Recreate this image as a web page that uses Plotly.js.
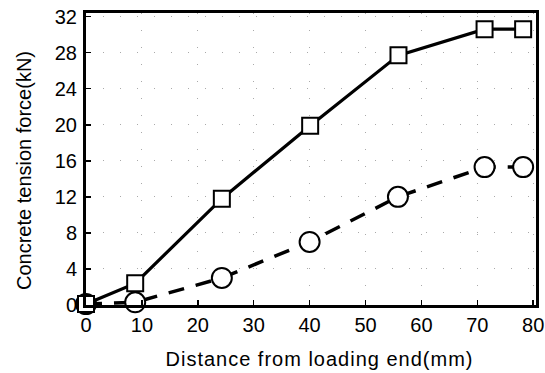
<!DOCTYPE html>
<html>
<head>
<meta charset="utf-8">
<script src="https://cdn.plot.ly/plotly-3.0.1.min.js"></script>
<style>
html,body{margin:0;padding:0;background:#fff;}
#chart{width:545px;height:373px;}
g.annotation[data-index="0"] text {letter-spacing: 1px;}
</style>
</head>
<body>
<div id="chart"></div>
<script>
const distSquare = [0, 8.8, 24.3, 40.1, 55.9, 71.3, 78.2];
const forceSquare = [0.1, 2.4, 11.8, 19.9, 27.7, 30.6, 30.6];
const distCircle = [0, 8.8, 24.3, 40.0, 55.8, 71.3, 78.2];
const forceCircle = [0.1, 0.3, 3.0, 7.0, 12.0, 15.3, 15.3];
const xTicks = [0, 10, 20, 30, 40, 50, 60, 70, 80];
const yTicks = [0, 4, 8, 12, 16, 20, 24, 28, 32];
const xTitle = 'Distance from loading end(mm)';
const yTitle = 'Concrete tension force(kN)';

const tickFont = {family: 'Liberation Sans, Arial, sans-serif', size: 20, color: '#000'};
const titleFont = {family: 'Liberation Sans, Arial, sans-serif', size: 20, color: '#000'};

const traces = [
  {x: distCircle, y: forceCircle, mode: 'lines+markers', cliponaxis: false,
   line: {color: '#000', width: 3.5, dash: '16px,12px'},
   marker: {symbol: 'circle', size: 20, color: '#fff', line: {color: '#000', width: 2}}},
  {x: distSquare, y: forceSquare, mode: 'lines+markers', cliponaxis: false,
   line: {color: '#000', width: 3.2},
   marker: {symbol: 'square', size: 16, color: '#fff', line: {color: '#000', width: 2}}}
];

const axisCommon = {
  ticks: 'inside', ticklen: 5, tickwidth: 1.5, tickcolor: '#000',
  showline: true, linecolor: '#000', linewidth: 3, mirror: true,
  showgrid: true, gridcolor: '#aaa', gridwidth: 1, griddash: '1px,16px',
  zeroline: false, tickfont: tickFont
};

const layout = {
  width: 545, height: 373,
  margin: {l: 86, r: 9, t: 13, b: 68},
  paper_bgcolor: '#fff', plot_bgcolor: '#fff',
  showlegend: false,
  font: tickFont,
  xaxis: Object.assign({range: [0, 80.5], tickvals: xTicks, ticktext: xTicks.map(String)}, axisCommon),
  yaxis: Object.assign({range: [0, 32.4], tickvals: yTicks, ticktext: yTicks.map(String), ticklabelstandoff: 2}, axisCommon),
  annotations: [
    {text: xTitle, xref: 'paper', yref: 'paper', x: 0.518, y: -0.185,
     xanchor: 'center', yanchor: 'middle', showarrow: false, font: titleFont},
    {text: yTitle, xref: 'paper', yref: 'paper', x: -0.138, y: 0.462, textangle: -90,
     xanchor: 'center', yanchor: 'middle', showarrow: false, font: titleFont}
  ]
};

Plotly.newPlot('chart', traces, layout, {displayModeBar: false, staticPlot: true});
</script>
</body>
</html>
